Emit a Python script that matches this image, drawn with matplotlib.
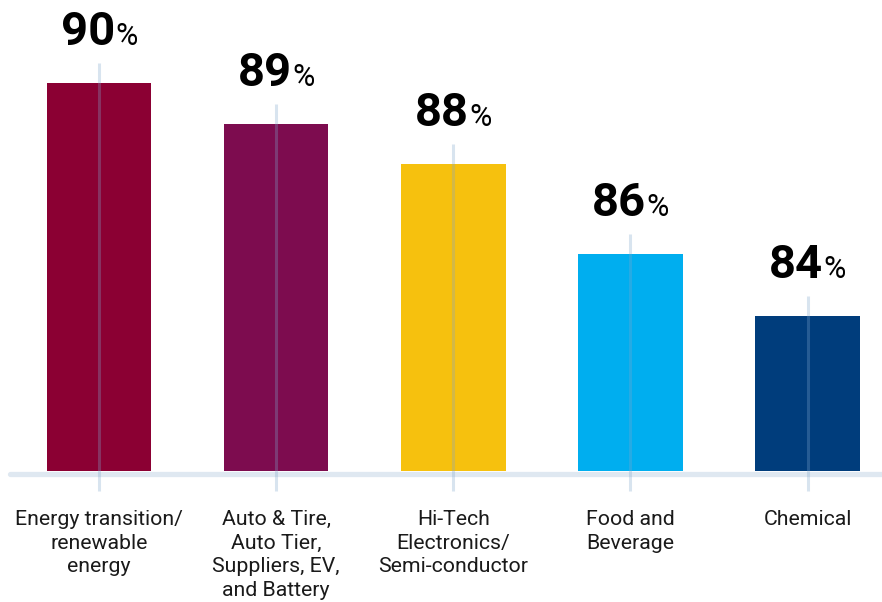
import matplotlib.pyplot as plt
from matplotlib.offsetbox import TextArea, HPacker, AnnotationBbox

categories = [
    "Energy transition/\nrenewable\nenergy",
    "Auto & Tire,\nAuto Tier,\nSuppliers, EV,\nand Battery",
    "Hi-Tech\nElectronics/\nSemi-conductor",
    "Food and\nBeverage",
    "Chemical",
]
# bar heights as drawn, and the rounded labels printed above them
values = [90.0, 88.95, 87.9, 85.6, 84.0]
labels = ["90", "89", "88", "86", "84"]
colors = ["#8b0033", "#7d0c4f", "#f6c10e", "#00aeef", "#003d7c"]

plt.rcParams['font.family'] = ['Roboto', 'DejaVu Sans']

fig = plt.figure(figsize=(8.82, 6.02), dpi=100)
ax = fig.add_axes([10 / 882, 1 - 471 / 602, 872 / 882, 471 / 602])

x = list(range(len(values)))
ax.bar(x, [v - 80 for v in values], bottom=80, width=0.59, color=colors, zorder=2)

# thin guide lines through each bar
for xi, v in zip(x, values):
    ax.plot([xi, xi], [79.48, v + 0.52], color=(0.5, 0.65, 0.8), alpha=0.3,
            lw=2.2, zorder=3, clip_on=False, solid_capstyle='butt')

# baseline
ax.plot([-0.503, 4.42], [79.91, 79.91], color="#dfe8f1", lw=3.8,
        solid_capstyle='round', clip_on=False, zorder=1)

for xi, v, lab in zip(x, values, labels):
    num = TextArea(lab, textprops=dict(fontsize=34, fontweight='semibold', color='black'))
    pct = TextArea("%", textprops=dict(fontsize=22, color='black'))
    box = HPacker(children=[num, pct], align='baseline', pad=0, sep=0)
    ab = AnnotationBbox(box, (xi, v), xybox=(0, 21), boxcoords='offset points',
                        box_alignment=(0.5, 0), frameon=False, annotation_clip=False)
    ax.add_artist(ab)

ax.set_xlim(-0.503, 4.42)
ax.set_ylim(80, 80 + 471 / 38.8)
ax.set_xticks(x)
ax.set_xticklabels(categories, fontsize=15.3, color='#1a1a1a', linespacing=1.31, va='top')
ax.tick_params(axis='x', length=0, pad=28)
ax.set_yticks([])
for s in ax.spines.values():
    s.set_visible(False)

plt.savefig('out.png', dpi=100)
